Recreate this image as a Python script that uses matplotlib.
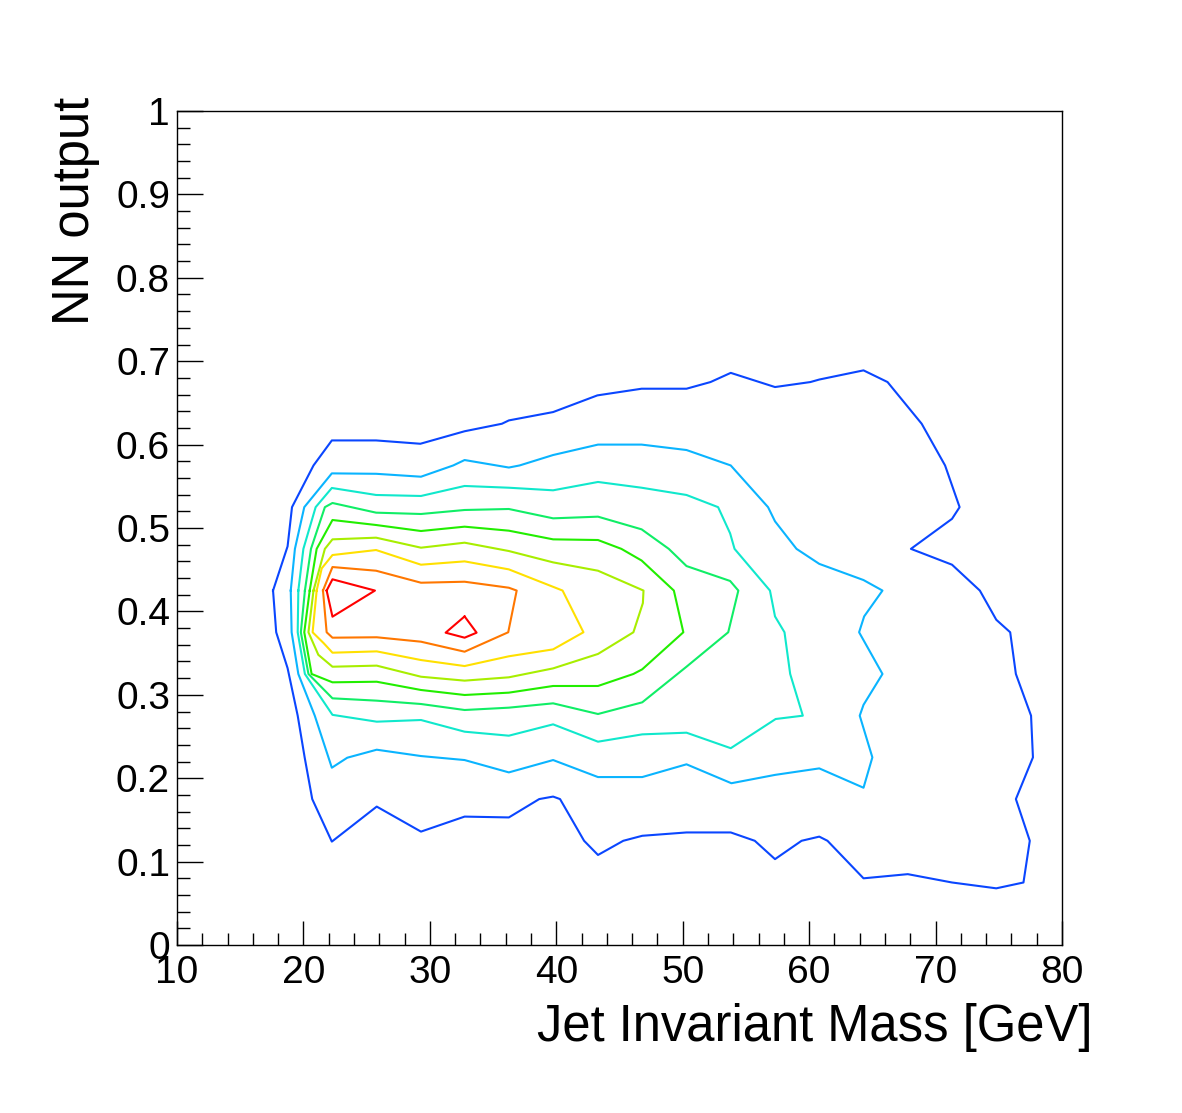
import numpy as np
import matplotlib
matplotlib.use("Agg")
import matplotlib.pyplot as plt
from matplotlib.ticker import MultipleLocator, FuncFormatter

plt.rcParams["font.family"] = ["Liberation Sans", "DejaVu Sans"]

# Contour lines: (jet mass [GeV], NN output)
lvl1 = [(17.6, 0.425), (18.75, 0.478), (19.1, 0.525), (20.8, 0.575), (22.25, 0.605),
        (25.75, 0.605), (29.25, 0.601), (32.75, 0.616), (35.7, 0.625), (36.25, 0.629),
        (39.75, 0.639), (43.25, 0.659), (46.75, 0.667), (50.3, 0.667), (52.2, 0.675),
        (53.8, 0.686), (57.3, 0.669), (60.1, 0.675), (60.8, 0.678), (64.3, 0.689),
        (66.2, 0.675), (68.9, 0.625), (70.75, 0.575), (71.9, 0.525), (71.3, 0.511),
        (68.05, 0.475), (71.3, 0.456), (73.5, 0.425), (74.8, 0.390), (75.9, 0.375),
        (76.35, 0.325), (77.55, 0.275), (77.7, 0.225), (76.35, 0.175), (77.45, 0.125),
        (76.95, 0.075), (74.8, 0.068), (71.3, 0.075), (67.8, 0.085), (64.3, 0.080),
        (61.45, 0.125), (60.8, 0.130), (59.4, 0.125), (57.3, 0.103), (55.7, 0.125),
        (53.8, 0.135), (50.3, 0.135), (46.8, 0.131), (45.3, 0.125), (43.3, 0.108),
        (42.2, 0.125), (40.3, 0.175), (39.75, 0.178), (38.65, 0.175), (36.25, 0.153),
        (32.75, 0.154), (29.3, 0.136), (25.8, 0.166), (22.25, 0.124), (20.7, 0.175),
        (20.1, 0.225), (19.55, 0.275), (18.75, 0.332), (17.85, 0.375)]

lvl2 = [(19.0, 0.425), (19.33, 0.475), (20.07, 0.525), (22.25, 0.5655), (25.75, 0.565),
        (29.3, 0.5615), (31.85, 0.575), (32.75, 0.5815), (36.25, 0.5725), (37.1, 0.575),
        (39.75, 0.5875), (43.3, 0.600), (46.75, 0.600), (50.3, 0.5935), (53.8, 0.575),
        (56.75, 0.525), (57.3, 0.508), (59.0, 0.475), (60.8, 0.457), (64.3, 0.4376),
        (65.8, 0.425), (64.35, 0.394), (63.95, 0.375), (65.8, 0.325), (64.3, 0.288),
        (64.0, 0.275), (65.0, 0.225), (64.3, 0.1886), (60.8, 0.2118), (57.3, 0.204),
        (53.85, 0.194), (50.3, 0.2167), (46.8, 0.2014), (43.3, 0.2014), (39.75, 0.2218),
        (36.25, 0.207), (32.75, 0.2218), (29.3, 0.2266), (25.8, 0.2342), (23.47, 0.2246),
        (22.25, 0.2126), (20.9, 0.275), (19.6, 0.325), (19.07, 0.375)]

lvl3 = [(19.6, 0.425), (20.0, 0.475), (20.97, 0.525), (22.25, 0.548), (25.75, 0.5396),
        (29.3, 0.5384), (32.75, 0.5504), (36.25, 0.5483), (39.75, 0.5452), (43.3, 0.5552),
        (46.75, 0.5483), (50.3, 0.5396), (52.8, 0.525), (53.75, 0.4936), (54.1, 0.475),
        (56.9, 0.425), (57.3, 0.394), (58.05, 0.375), (58.5, 0.325), (59.5, 0.275),
        (57.35, 0.271), (53.8, 0.236), (50.3, 0.2546), (46.8, 0.2526), (43.3, 0.2438),
        (39.75, 0.2646), (36.25, 0.251), (32.75, 0.2558), (29.3, 0.2698), (25.8, 0.2678),
        (22.3, 0.276), (20.12, 0.325), (19.55, 0.375)]

lvl4 = [(20.12, 0.425), (20.6, 0.475), (21.7, 0.525), (22.3, 0.530), (25.75, 0.5184),
        (29.3, 0.5168), (32.75, 0.5216), (36.25, 0.5228), (39.75, 0.5116), (43.3, 0.5136),
        (46.75, 0.4984), (48.9, 0.475), (50.3, 0.4544), (53.75, 0.4365), (54.4, 0.425),
        (53.6, 0.375), (50.3, 0.3337), (46.8, 0.291), (43.3, 0.277), (39.75, 0.2898),
        (36.25, 0.2846), (32.75, 0.2818), (29.3, 0.289), (25.8, 0.293), (22.3, 0.2958),
        (20.4, 0.325), (19.8, 0.375)]

lvl5 = [(20.5, 0.425), (21.05, 0.475), (22.3, 0.5096), (25.75, 0.5036), (29.3, 0.4964),
        (32.75, 0.5016), (36.25, 0.4968), (39.75, 0.4864), (43.3, 0.4856), (45.15, 0.475),
        (46.75, 0.461), (49.3, 0.425), (50.05, 0.375), (46.8, 0.3306), (46.1, 0.325),
        (43.3, 0.3106), (39.75, 0.3106), (36.25, 0.3026), (32.75, 0.2998), (29.3, 0.3058),
        (25.8, 0.3157), (22.3, 0.315), (20.65, 0.325), (20.07, 0.375)]

lvl6 = [(20.8, 0.425), (21.7, 0.475), (22.3, 0.4864), (25.75, 0.4884), (29.3, 0.4764),
        (32.75, 0.4824), (36.25, 0.4724), (39.75, 0.4588), (43.3, 0.4488), (46.9, 0.425),
        (46.85, 0.41), (46.1, 0.375), (43.3, 0.349), (39.75, 0.3317), (36.25, 0.321),
        (32.75, 0.317), (29.3, 0.3217), (25.8, 0.335), (22.3, 0.3337), (21.18, 0.348),
        (20.4, 0.375)]

lvl7 = [(21.05, 0.425), (21.45, 0.4516), (22.3, 0.4676), (25.75, 0.4736), (29.3, 0.456),
        (32.75, 0.460), (36.25, 0.4504), (40.5, 0.425), (42.15, 0.375), (39.75, 0.3545),
        (36.25, 0.3462), (32.75, 0.3345), (29.3, 0.3417), (25.8, 0.3521), (22.3, 0.3505),
        (21.6, 0.362), (20.73, 0.375)]

lvl8 = [(21.55, 0.425), (22.3, 0.4532), (25.75, 0.4488), (29.3, 0.4344), (32.75, 0.4356),
        (36.25, 0.4284), (36.87, 0.425), (36.2, 0.375), (32.75, 0.3517), (29.3, 0.3637),
        (25.8, 0.369), (22.3, 0.3685), (21.84, 0.375)]

lvl9a = [(21.84, 0.425), (22.3, 0.4385), (25.66, 0.425), (22.3, 0.3937)]
lvl9b = [(32.75, 0.394), (33.7, 0.3745), (32.75, 0.3685), (31.25, 0.3745)]

contours = [lvl1, lvl2, lvl3, lvl4, lvl5, lvl6, lvl7, lvl8, lvl9a, lvl9b]
colors = ["#0a46ff", "#0ab4ff", "#10e8cc", "#10ee66", "#22ee00",
          "#a8ee00", "#ffe000", "#ff7700", "#ff0000", "#ff0000"]

fig = plt.figure(figsize=(11.82, 11.13), dpi=100)
ax = fig.add_axes([0.1497, 0.1509, 0.7488, 0.7494])

for pts, c in zip(contours, colors):
    arr = np.array(pts + pts[:1])
    ax.plot(arr[:, 0], arr[:, 1], color=c, lw=1.5)

ax.set_xlim(10, 80)
ax.set_ylim(0, 1)
ax.xaxis.set_major_locator(MultipleLocator(10))
ax.xaxis.set_minor_locator(MultipleLocator(2))
ax.yaxis.set_major_locator(MultipleLocator(0.1))
ax.yaxis.set_minor_locator(MultipleLocator(0.02))
ax.yaxis.set_major_formatter(FuncFormatter(lambda v, p: f"{v:g}"))

ax.tick_params(which="both", direction="in", top=False, right=False, width=1.0)
ax.tick_params(axis="x", which="major", length=17, labelsize=28, pad=7)
ax.tick_params(axis="x", which="minor", length=8.5)
ax.tick_params(axis="y", which="major", length=19, labelsize=28, pad=5)
ax.tick_params(axis="y", which="minor", length=9.5)
for s in ax.spines.values():
    s.set_linewidth(1.0)

ax.set_xlabel("Jet Invariant Mass [GeV]", fontsize=36.5, ha="right", va="top")
ax.xaxis.set_label_coords(1.034, -0.07)
ax.set_ylabel("NN output", fontsize=36.5, ha="right", va="center")
ax.yaxis.set_label_coords(-0.115, 1.017)

fig.savefig("out.png", dpi=100)
